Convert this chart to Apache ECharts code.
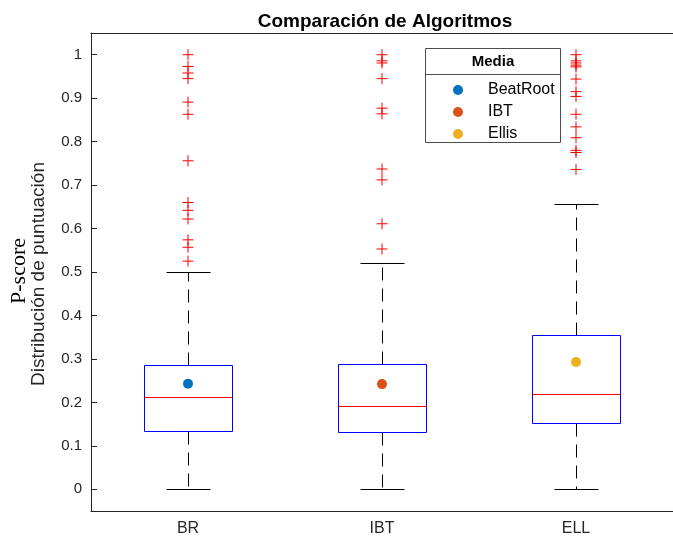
<!DOCTYPE html>
<html>
<head>
<meta charset="utf-8">
<script src="https://cdn.jsdelivr.net/npm/echarts@6/dist/echarts.min.js"></script>
<style>
  html, body { margin: 0; padding: 0; background: #fff; }
  #chart { width: 673px; height: 540px; }
</style>
</head>
<body>
<div id="chart"></div>
<script>
// Box statistics per algorithm
const categories = ['BR', 'IBT', 'ELL'];
const lowerWhisker = [0, 0, 0];
const q1 = [0.132, 0.130, 0.152];
const median = [0.211, 0.191, 0.219];
const q3 = [0.285, 0.286, 0.355];
const upperWhisker = [0.500, 0.520, 0.655];

// Outliers above the upper whisker
const outliersBR = [1.0, 0.973, 0.958, 0.945, 0.891, 0.863, 0.756, 0.660, 0.642, 0.622, 0.574, 0.557, 0.525];
const outliersIBT = [1.0, 0.986, 0.981, 0.945, 0.877, 0.864, 0.737, 0.712, 0.611, 0.553];
const outliersELL = [1.0, 0.986, 0.981, 0.976, 0.972, 0.944, 0.915, 0.904, 0.863, 0.834, 0.809, 0.780, 0.775, 0.736];

// Mean markers
const meanNames = ['BeatRoot', 'IBT', 'Ellis'];
const meanValues = [0.243, 0.242, 0.293];
const meanColors = ['#0072BD', '#D95319', '#EDB120'];

// Axis ticks
const yTicks = [0, 0.1, 0.2, 0.3, 0.4, 0.5, 0.6, 0.7, 0.8, 0.9, 1];

const FONT = 'Liberation Sans, Arial, Helvetica, sans-serif';
const AXIS_COLOR = '#262626';

const boxData = categories.map((c, i) => [i, lowerWhisker[i], q1[i], median[i], q3[i], upperWhisker[i]]);
const outlierData = [];
[outliersBR, outliersIBT, outliersELL].forEach((arr, i) => arr.forEach(v => outlierData.push([i, v])));

const crisp = v => Math.round(v - 0.5) + 0.5;

function renderBox(params, api) {
  const i = api.value(0);
  const band = api.size([1, 0])[0];
  const cx = crisp(api.coord([i, 0])[0]);
  const yLow = crisp(api.coord([i, api.value(1)])[1]);
  const yQ1 = crisp(api.coord([i, api.value(2)])[1]);
  const yMed = crisp(api.coord([i, api.value(3)])[1]);
  const yQ3 = crisp(api.coord([i, api.value(4)])[1]);
  const yHigh = crisp(api.coord([i, api.value(5)])[1]);
  const hw = Math.round(band * 0.2255);
  const cw = Math.round(band * 0.112);
  const dash = { stroke: '#000', lineWidth: 1, lineDash: [13, 8] };
  const solid = { stroke: '#000', lineWidth: 1 };
  return {
    type: 'group',
    children: [
      { type: 'line', shape: { x1: cx, y1: yQ3, x2: cx, y2: yHigh }, style: dash },
      { type: 'line', shape: { x1: cx, y1: yQ1, x2: cx, y2: yLow }, style: dash },
      { type: 'line', shape: { x1: cx - cw, y1: yHigh, x2: cx + cw, y2: yHigh }, style: solid },
      { type: 'line', shape: { x1: cx - cw, y1: yLow, x2: cx + cw, y2: yLow }, style: solid },
      { type: 'rect', shape: { x: cx - hw, y: yQ3, width: 2 * hw, height: yQ1 - yQ3 },
        style: { fill: 'none', stroke: '#0000ff', lineWidth: 1 } },
      { type: 'line', shape: { x1: cx - hw, y1: yMed, x2: cx + hw, y2: yMed },
        style: { stroke: '#ff0000', lineWidth: 1 } }
    ]
  };
}

const chart = echarts.init(document.getElementById('chart'), null, { renderer: 'canvas' });

const option = {
  animation: false,
  backgroundColor: '#fff',
  title: {
    text: 'Comparación de Algoritmos',
    left: 380,
    top: 7,
    textAlign: 'center',
    textStyle: { fontFamily: FONT, fontSize: 19, fontWeight: 'bold', color: '#000' }
  },
  grid: { left: 91, top: 33, width: 588, height: 478 },
  legend: {
    data: meanNames,
    orient: 'vertical',
    left: 448,
    top: 77,
    z: 20,
    itemWidth: 10,
    itemHeight: 10,
    itemGap: 6,
    icon: 'circle',
    itemStyle: { opacity: 1 },
    textStyle: { fontFamily: FONT, fontSize: 16, color: '#000', padding: [0, 0, 0, 20] }
  },
  xAxis: [
    {
      type: 'category',
      data: categories,
      position: 'bottom',
      boundaryGap: true,
      axisLine: { onZero: false, lineStyle: { color: AXIS_COLOR, width: 1 } },
      axisTick: { inside: true, length: 6, alignWithLabel: true, lineStyle: { color: AXIS_COLOR } },
      axisLabel: { fontFamily: FONT, fontSize: 16, color: AXIS_COLOR, margin: 10 },
      splitLine: { show: false }
    },
    {
      type: 'category',
      data: categories,
      position: 'top',
      boundaryGap: true,
      axisLine: { onZero: false, lineStyle: { color: AXIS_COLOR, width: 1 } },
      axisTick: { inside: true, length: 6, alignWithLabel: true, lineStyle: { color: AXIS_COLOR } },
      axisLabel: { show: false },
      splitLine: { show: false }
    }
  ],
  yAxis: [
    {
      type: 'value',
      min: -0.05,
      max: 1.05,
      position: 'left',
      axisLine: { show: true, onZero: false, lineStyle: { color: AXIS_COLOR, width: 1 } },
      axisTick: { show: true, inside: true, length: 6, customValues: yTicks, lineStyle: { color: AXIS_COLOR } },
      axisLabel: {
        customValues: yTicks,
        fontFamily: FONT, fontSize: 15, color: AXIS_COLOR, margin: 9,
        formatter: v => String(+(+v).toFixed(1))
      },
      splitLine: { show: false }
    }
  ],
  graphic: [
    {
      type: 'text', x: 39, y: 274, rotation: Math.PI / 2,
      style: { text: 'Distribución de puntuación', font: '19px ' + FONT, fill: AXIS_COLOR,
               textAlign: 'center', textVerticalAlign: 'middle' }
    },
    {
      type: 'text', x: 19, y: 271, rotation: Math.PI / 2,
      style: { text: 'P-score', font: '22px "Liberation Serif", "Times New Roman", serif', fill: '#000',
               textAlign: 'center', textVerticalAlign: 'middle' }
    },
    {
      type: 'rect', shape: { x: 425.5, y: 48.5, width: 135, height: 94 },
      style: { fill: '#fff', stroke: '#4d4d4d', lineWidth: 1 }, z: 5
    },
    {
      type: 'line', shape: { x1: 425.5, y1: 74.5, x2: 560.5, y2: 74.5 },
      style: { stroke: '#4d4d4d', lineWidth: 1 }, z: 6
    },
    {
      type: 'text', x: 493, y: 62, z: 6,
      style: { text: 'Media', font: 'bold 15px ' + FONT, fill: '#000',
               textAlign: 'center', textVerticalAlign: 'middle' }
    }
  ],
  series: [
    {
      type: 'custom',
      name: 'box',
      renderItem: renderBox,
      data: boxData,
      encode: { x: 0, y: [1, 2, 3, 4, 5] },
      z: 2
    },
    {
      type: 'scatter',
      name: 'outliers',
      data: outlierData,
      symbol: 'path://M5,0L5,10M0,5L10,5',
      symbolSize: 11,
      itemStyle: { color: 'none', borderColor: '#ff0000', borderWidth: 1, opacity: 1 },
      z: 3
    },
    ...meanNames.map((name, i) => ({
      type: 'scatter',
      name: name,
      data: [[i, meanValues[i]]],
      symbol: 'circle',
      symbolSize: 10,
      itemStyle: { color: meanColors[i], opacity: 1 },
      z: 4
    }))
  ]
};

chart.setOption(option);
</script>
</body>
</html>
